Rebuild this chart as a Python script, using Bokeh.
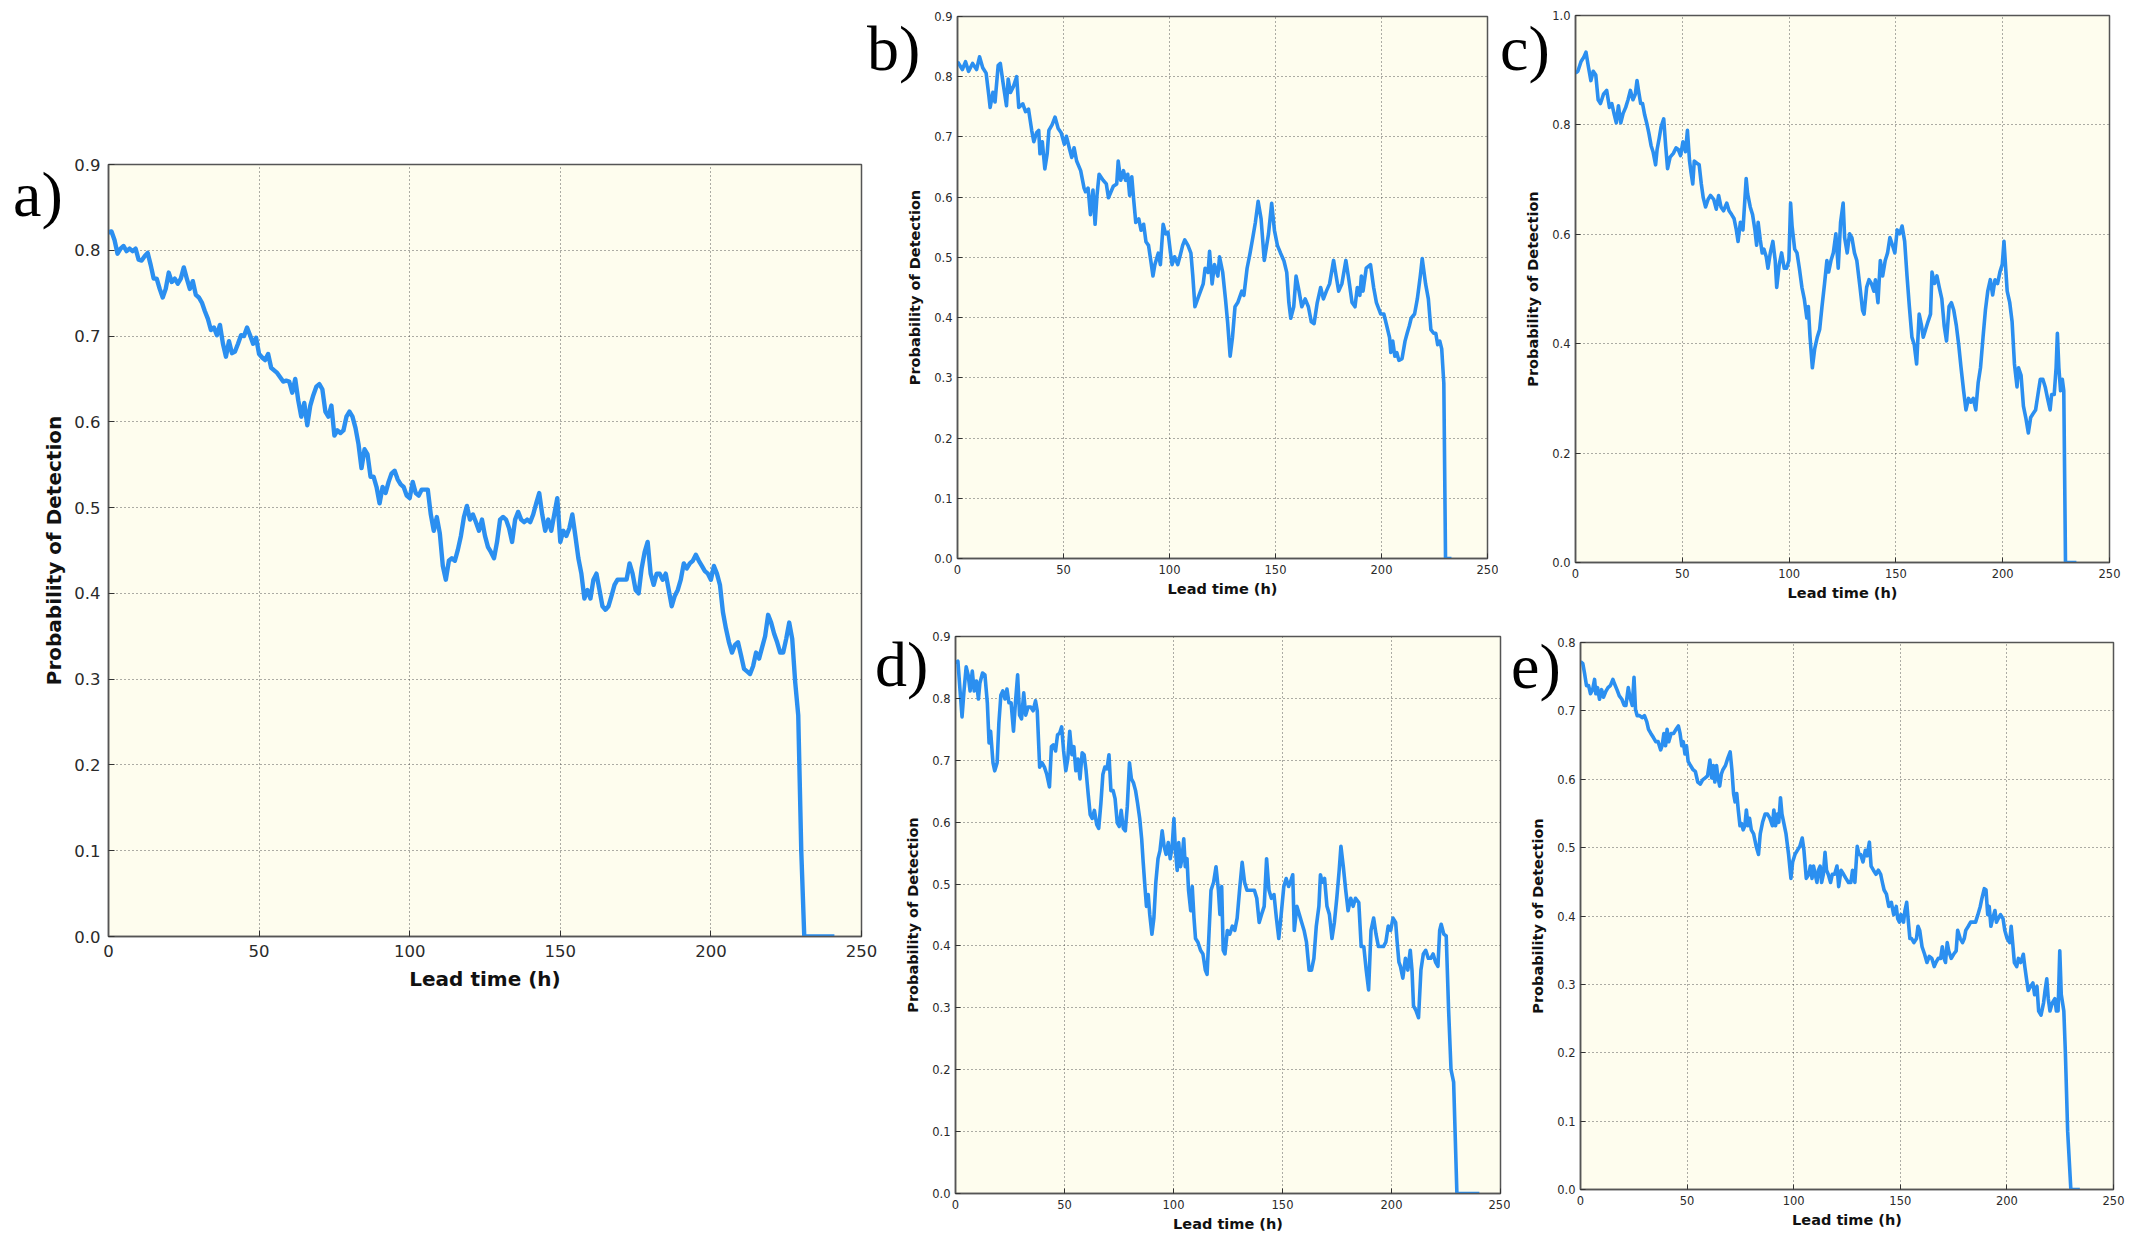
from bokeh.plotting import figure
from bokeh.layouts import row, column
from bokeh.models import FixedTicker, NumeralTickFormatter, Div
from bokeh.embed import file_html
from bokeh.resources import INLINE

# ---------------- data ----------------
a_hours = list(range(0, 242))
a_pod = [0.821, 0.822, 0.812, 0.796, 0.802, 0.805, 0.799, 0.802, 0.799, 0.802,
         0.789, 0.788, 0.793, 0.797, 0.783, 0.767, 0.767, 0.755, 0.745, 0.755,
         0.774, 0.763, 0.767, 0.761, 0.767, 0.780, 0.767, 0.755, 0.764, 0.748,
         0.745, 0.739, 0.729, 0.720, 0.707, 0.710, 0.701, 0.713, 0.691, 0.676,
         0.694, 0.680, 0.682, 0.691, 0.701, 0.700, 0.710, 0.701, 0.691, 0.698,
         0.679, 0.675, 0.672, 0.679, 0.663, 0.660, 0.657, 0.652, 0.647, 0.648,
         0.647, 0.634, 0.650, 0.625, 0.606, 0.622, 0.596, 0.619, 0.631, 0.641,
         0.644, 0.638, 0.612, 0.606, 0.619, 0.584, 0.590, 0.587, 0.590, 0.606,
         0.612, 0.606, 0.593, 0.574, 0.546, 0.568, 0.562, 0.536, 0.536, 0.524,
         0.505, 0.524, 0.517, 0.530, 0.540, 0.543, 0.533, 0.527, 0.524, 0.514,
         0.511, 0.530, 0.517, 0.514, 0.521, 0.521, 0.521, 0.492, 0.473, 0.489,
         0.470, 0.432, 0.416, 0.438, 0.441, 0.438, 0.451, 0.467, 0.489, 0.502,
         0.486, 0.492, 0.483, 0.473, 0.486, 0.467, 0.454, 0.448, 0.441, 0.460,
         0.486, 0.489, 0.486, 0.476, 0.460, 0.486, 0.495, 0.486, 0.483, 0.486,
         0.483, 0.492, 0.505, 0.517, 0.492, 0.473, 0.486, 0.473, 0.492, 0.511,
         0.460, 0.473, 0.467, 0.476, 0.492, 0.467, 0.441, 0.423, 0.394, 0.404,
         0.394, 0.416, 0.423, 0.404, 0.385, 0.381, 0.385, 0.397, 0.410, 0.416,
         0.416, 0.416, 0.416, 0.435, 0.423, 0.404, 0.400, 0.429, 0.448, 0.460,
         0.423, 0.410, 0.423, 0.423, 0.416, 0.423, 0.404, 0.385, 0.397, 0.404,
         0.416, 0.435, 0.429, 0.435, 0.438, 0.445, 0.438, 0.432, 0.426, 0.423,
         0.416, 0.432, 0.423, 0.410, 0.378, 0.359, 0.343, 0.331, 0.340, 0.343,
         0.328, 0.312, 0.309, 0.306, 0.315, 0.331, 0.324, 0.337, 0.350, 0.375,
         0.366, 0.353, 0.343, 0.331, 0.331, 0.347, 0.366, 0.347, 0.296, 0.258,
         0.100, 0.0, 0.0, 0.0, 0.0, 0.0, 0.0, 0.0, 0.0, 0.0, 0.0, 0.0]

b_points = [
    (0, 0.825), (2.3, 0.812), (3.8, 0.825), (5.2, 0.809), (7.1, 0.822), (9.0, 0.812),
    (10.4, 0.833), (11.9, 0.815), (13.5, 0.806), (14.8, 0.768), (15.4, 0.749), (16.7, 0.774),
    (17.7, 0.758), (19.2, 0.819), (20.2, 0.822), (21.6, 0.787), (23.1, 0.752), (23.9, 0.796),
    (25.0, 0.774), (26.4, 0.784), (27.9, 0.800), (28.9, 0.749), (30.8, 0.755), (32.1, 0.742),
    (33.5, 0.746), (35.0, 0.711), (36.0, 0.692), (37.3, 0.707), (38.3, 0.711), (38.9, 0.672),
    (40.0, 0.692), (41.2, 0.647), (42.3, 0.672), (43.1, 0.711), (44.6, 0.720), (46.0, 0.733),
    (47.5, 0.714), (48.9, 0.707), (50.4, 0.688), (51.4, 0.701), (52.7, 0.682), (53.9, 0.666),
    (55.0, 0.682), (56.2, 0.660), (58.1, 0.644), (59.7, 0.615), (60.4, 0.609), (61.6, 0.615),
    (62.7, 0.571), (63.9, 0.612), (64.9, 0.555), (65.8, 0.603), (66.8, 0.638), (68.7, 0.628),
    (70.2, 0.622), (71.2, 0.599), (72.4, 0.609), (73.5, 0.618), (75.1, 0.622), (75.8, 0.660),
    (77.0, 0.628), (78.3, 0.644), (79.3, 0.628), (80.3, 0.638), (81.2, 0.603), (82.2, 0.634),
    (83.1, 0.596), (84.1, 0.558), (85.5, 0.564), (86.6, 0.545), (87.8, 0.555), (88.9, 0.526),
    (90.1, 0.520), (91.2, 0.494), (92.2, 0.469), (93.1, 0.488), (94.7, 0.507), (95.7, 0.488),
    (97.0, 0.555), (98.2, 0.539), (99.3, 0.542), (100.5, 0.507), (101.2, 0.488), (102.4, 0.501),
    (103.9, 0.488), (105.1, 0.504), (106.2, 0.520), (107.2, 0.529), (108.7, 0.520), (110.1, 0.507),
    (111.0, 0.469), (112.0, 0.418), (113.9, 0.437), (115.9, 0.456), (116.8, 0.482), (118.2, 0.475),
    (118.9, 0.510), (120.1, 0.456), (121.2, 0.488), (122.8, 0.469), (123.6, 0.501), (125.1, 0.475),
    (126.4, 0.431), (127.4, 0.393), (128.6, 0.336), (129.7, 0.367), (130.9, 0.418), (132.2, 0.425),
    (134.1, 0.444), (135.1, 0.437), (136.6, 0.482), (138.0, 0.507), (139.3, 0.533), (140.5, 0.558),
    (141.8, 0.593), (143.2, 0.564), (144.7, 0.495), (146.7, 0.539), (148.2, 0.590), (149.5, 0.545),
    (150.9, 0.520), (152.4, 0.507), (154.0, 0.494), (155.3, 0.475), (156.3, 0.425), (157.2, 0.399),
    (158.6, 0.418), (159.7, 0.469), (161.1, 0.444), (162.4, 0.418), (164.0, 0.431), (165.5, 0.418),
    (166.9, 0.393), (168.2, 0.390), (169.7, 0.425), (171.3, 0.450), (172.6, 0.431), (174.0, 0.444),
    (175.5, 0.456), (177.4, 0.495), (178.6, 0.469), (179.8, 0.444), (181.3, 0.456), (183.2, 0.495),
    (184.6, 0.463), (186.1, 0.425), (187.5, 0.418), (188.6, 0.450), (189.8, 0.437), (190.5, 0.469),
    (191.3, 0.444), (192.8, 0.482), (194.8, 0.488), (196.3, 0.450), (197.6, 0.425), (199.6, 0.406),
    (201.1, 0.406), (202.5, 0.386), (203.8, 0.367), (204.4, 0.342), (205.3, 0.361), (206.3, 0.336),
    (207.2, 0.342), (208.2, 0.329), (209.7, 0.332), (211.1, 0.361), (212.1, 0.374), (213.1, 0.386),
    (214.0, 0.399), (215.6, 0.406), (216.9, 0.431), (218.3, 0.469), (219.2, 0.498), (220.8, 0.456),
    (222.1, 0.431), (223.3, 0.380), (224.6, 0.374), (225.6, 0.374), (226.5, 0.355), (227.5, 0.361),
    (228.4, 0.348), (229.4, 0.291), (230.2, 0.0), (233.0, 0.0)]

c_points = [
    (0.0, 0.895), (1.1, 0.898), (2.6, 0.916), (3.8, 0.923), (4.9, 0.933), (6.1, 0.905),
    (7.2, 0.881), (8.3, 0.898), (9.5, 0.891), (10.6, 0.846), (11.7, 0.839), (13.1, 0.856),
    (14.6, 0.863), (15.9, 0.832), (17.0, 0.839), (18.2, 0.818), (19.1, 0.804), (20.1, 0.835),
    (21.2, 0.804), (22.3, 0.821), (23.5, 0.832), (24.6, 0.846), (25.7, 0.863), (26.9, 0.846),
    (28.0, 0.856), (28.8, 0.881), (29.5, 0.863), (30.5, 0.839), (31.4, 0.839), (32.4, 0.818),
    (33.3, 0.804), (34.3, 0.786), (35.4, 0.762), (36.3, 0.751), (37.5, 0.727), (38.2, 0.755),
    (39.2, 0.776), (40.1, 0.797), (41.3, 0.811), (42.2, 0.762), (43.1, 0.720), (44.3, 0.741),
    (45.8, 0.748), (47.1, 0.758), (48.1, 0.755), (49.2, 0.744), (50.3, 0.769), (51.5, 0.751),
    (52.4, 0.790), (53.4, 0.734), (54.1, 0.713), (54.9, 0.692), (55.6, 0.734), (56.8, 0.730),
    (57.9, 0.727), (58.9, 0.692), (59.8, 0.667), (60.9, 0.650), (62.1, 0.664), (63.2, 0.671),
    (64.7, 0.664), (65.9, 0.646), (67.0, 0.671), (68.1, 0.650), (69.3, 0.643), (70.8, 0.657),
    (71.9, 0.643), (73.1, 0.636), (74.2, 0.629), (75.3, 0.608), (76.1, 0.587), (77.2, 0.622),
    (78.4, 0.608), (79.3, 0.664), (79.9, 0.702), (80.6, 0.674), (81.8, 0.650), (82.9, 0.636),
    (84.0, 0.608), (84.8, 0.580), (85.5, 0.622), (86.5, 0.590), (87.4, 0.566), (88.2, 0.573),
    (89.3, 0.559), (90.1, 0.538), (91.2, 0.566), (92.4, 0.587), (93.5, 0.552), (94.2, 0.503),
    (95.4, 0.545), (96.5, 0.566), (97.7, 0.538), (98.8, 0.538), (99.9, 0.552), (100.7, 0.657),
    (101.4, 0.615), (102.6, 0.573), (103.7, 0.566), (104.8, 0.538), (106.0, 0.503), (107.1, 0.482),
    (108.3, 0.447), (109.0, 0.468), (109.8, 0.412), (110.9, 0.356), (112.0, 0.391), (113.2, 0.412),
    (114.3, 0.426), (115.4, 0.468), (116.6, 0.510), (117.7, 0.552), (118.5, 0.531), (119.6, 0.552),
    (120.7, 0.566), (121.9, 0.601), (123.0, 0.538), (124.1, 0.622), (125.3, 0.657), (126.0, 0.594),
    (127.2, 0.566), (128.3, 0.601), (129.4, 0.594), (130.6, 0.566), (131.7, 0.552), (133.2, 0.503),
    (134.4, 0.461), (135.1, 0.454), (136.3, 0.503), (137.4, 0.517), (138.5, 0.510), (139.7, 0.496),
    (140.4, 0.517), (141.6, 0.475), (142.7, 0.552), (143.8, 0.524), (145.0, 0.552), (146.1, 0.566),
    (147.2, 0.594), (148.4, 0.580), (149.5, 0.566), (150.6, 0.608), (151.8, 0.601), (152.9, 0.615),
    (154.1, 0.587), (155.2, 0.524), (156.3, 0.468), (157.5, 0.412), (158.6, 0.398), (159.7, 0.363),
    (160.9, 0.454), (162.0, 0.433), (162.8, 0.412), (163.9, 0.426), (165.0, 0.440), (166.2, 0.454),
    (166.9, 0.531), (168.1, 0.510), (169.2, 0.524), (170.3, 0.503), (171.5, 0.482), (172.6, 0.433),
    (173.7, 0.405), (174.9, 0.468), (176.0, 0.475), (177.1, 0.461), (178.3, 0.433), (179.4, 0.398),
    (180.5, 0.356), (181.7, 0.314), (182.8, 0.279), (184.0, 0.300), (185.1, 0.293), (186.2, 0.300),
    (187.4, 0.279), (188.5, 0.328), (189.6, 0.356), (190.8, 0.412), (191.9, 0.461), (193.0, 0.496),
    (194.2, 0.517), (195.3, 0.489), (196.4, 0.517), (197.6, 0.510), (198.7, 0.531), (199.8, 0.545),
    (200.6, 0.587), (201.4, 0.538), (202.1, 0.496), (203.3, 0.475), (204.4, 0.440), (205.5, 0.363),
    (206.7, 0.321), (207.4, 0.356), (208.6, 0.342), (209.7, 0.286), (210.8, 0.265), (212.0, 0.237),
    (213.1, 0.265), (214.2, 0.272), (215.4, 0.279), (216.5, 0.307), (217.6, 0.335), (218.8, 0.335),
    (219.9, 0.321), (221.0, 0.300), (222.2, 0.279), (222.9, 0.307), (224.1, 0.307), (225.0, 0.356),
    (225.6, 0.419), (226.3, 0.356), (227.1, 0.314), (227.9, 0.335), (228.6, 0.314), (229.4, 0.0),
    (234.5, 0.0)]

d_points = [
    (0.0, 0.857), (1.1, 0.860), (2.1, 0.812), (3.0, 0.770), (3.9, 0.812), (4.9, 0.851),
    (5.8, 0.838), (6.7, 0.812), (7.7, 0.844), (8.6, 0.812), (9.6, 0.828), (10.5, 0.799),
    (11.2, 0.825), (12.4, 0.841), (13.5, 0.838), (14.6, 0.793), (15.4, 0.728), (16.1, 0.747),
    (17.2, 0.696), (18.0, 0.683), (19.1, 0.696), (19.9, 0.760), (20.8, 0.805), (21.7, 0.812),
    (22.7, 0.799), (23.6, 0.815), (24.5, 0.793), (25.5, 0.793), (26.6, 0.747), (27.5, 0.793),
    (28.5, 0.838), (29.4, 0.773), (30.3, 0.767), (31.3, 0.809), (32.2, 0.773), (33.3, 0.786),
    (34.5, 0.786), (35.6, 0.780), (36.7, 0.796), (37.5, 0.780), (38.6, 0.689), (39.7, 0.696),
    (40.8, 0.689), (41.9, 0.677), (43.1, 0.657), (44.0, 0.722), (44.9, 0.725), (45.9, 0.715),
    (46.8, 0.741), (47.8, 0.744), (48.7, 0.754), (49.6, 0.715), (50.6, 0.683), (51.5, 0.702),
    (52.4, 0.747), (53.4, 0.709), (54.3, 0.722), (55.2, 0.683), (56.2, 0.702), (57.1, 0.670),
    (58.1, 0.712), (59.0, 0.709), (59.9, 0.683), (60.9, 0.644), (61.8, 0.612), (62.7, 0.606),
    (63.7, 0.619), (64.8, 0.596), (65.7, 0.590), (66.7, 0.631), (67.6, 0.677), (68.5, 0.689),
    (69.5, 0.686), (70.4, 0.709), (71.3, 0.651), (72.3, 0.651), (73.2, 0.638), (74.2, 0.599),
    (75.1, 0.593), (76.0, 0.619), (77.0, 0.590), (77.9, 0.586), (78.8, 0.625), (79.8, 0.696),
    (80.7, 0.670), (81.6, 0.664), (82.6, 0.651), (83.5, 0.631), (84.5, 0.606), (85.4, 0.573),
    (86.1, 0.535), (86.9, 0.496), (87.6, 0.464), (88.4, 0.483), (89.1, 0.451), (90.1, 0.419),
    (91.0, 0.445), (91.9, 0.503), (92.9, 0.541), (93.8, 0.554), (94.8, 0.586), (95.7, 0.561),
    (96.6, 0.548), (97.6, 0.567), (98.5, 0.541), (99.4, 0.561), (100.2, 0.606), (100.9, 0.554),
    (101.7, 0.522), (102.4, 0.567), (103.2, 0.528), (103.9, 0.541), (104.7, 0.573), (105.4, 0.528),
    (106.2, 0.541), (106.9, 0.490), (107.9, 0.457), (108.6, 0.496), (109.4, 0.445), (110.1, 0.412),
    (111.2, 0.406), (112.4, 0.393), (113.5, 0.387), (114.6, 0.361), (115.4, 0.354), (116.1, 0.406),
    (117.2, 0.490), (118.4, 0.503), (119.5, 0.528), (120.6, 0.490), (121.3, 0.451), (122.1, 0.496),
    (122.8, 0.393), (123.6, 0.387), (124.7, 0.425), (125.8, 0.419), (127.0, 0.432), (128.1, 0.425),
    (129.2, 0.445), (130.3, 0.490), (131.5, 0.535), (132.6, 0.503), (133.7, 0.490), (134.8, 0.490),
    (136.0, 0.490), (137.1, 0.490), (138.2, 0.477), (139.3, 0.438), (140.4, 0.451), (141.6, 0.464),
    (142.7, 0.541), (143.8, 0.490), (144.9, 0.477), (146.1, 0.483), (147.2, 0.445), (148.3, 0.412),
    (149.4, 0.451), (150.6, 0.496), (151.7, 0.509), (152.8, 0.496), (153.6, 0.503), (154.7, 0.515),
    (155.4, 0.425), (156.6, 0.464), (157.7, 0.451), (158.8, 0.438), (159.9, 0.425), (161.0, 0.406),
    (162.2, 0.361), (163.3, 0.361), (164.4, 0.380), (165.5, 0.432), (166.7, 0.464), (167.4, 0.515),
    (168.2, 0.503), (169.3, 0.509), (170.4, 0.464), (171.5, 0.451), (172.7, 0.412), (173.8, 0.438),
    (174.9, 0.477), (176.0, 0.522), (176.8, 0.561), (177.9, 0.528), (179.0, 0.490), (180.1, 0.457),
    (181.3, 0.477), (182.4, 0.464), (183.5, 0.477), (185.0, 0.470), (186.1, 0.399), (187.3, 0.399),
    (188.4, 0.361), (189.5, 0.329), (190.6, 0.425), (191.8, 0.445), (192.9, 0.419), (194.0, 0.399),
    (195.1, 0.399), (196.3, 0.399), (197.4, 0.406), (198.5, 0.432), (199.6, 0.425), (200.7, 0.445),
    (201.9, 0.438), (202.6, 0.406), (203.4, 0.374), (204.1, 0.367), (205.2, 0.348), (206.4, 0.380),
    (207.5, 0.361), (208.6, 0.393), (209.4, 0.361), (210.1, 0.303), (211.2, 0.296), (212.4, 0.284),
    (213.5, 0.361), (214.6, 0.387), (215.7, 0.393), (216.9, 0.380), (218.0, 0.380), (219.1, 0.387),
    (220.2, 0.374), (221.3, 0.367), (222.1, 0.425), (222.8, 0.435), (224.0, 0.419), (225.1, 0.416),
    (226.2, 0.296), (227.3, 0.200), (228.5, 0.180), (230.0, 0.0), (240.3, 0.0)]

e_points = [
    (0.0, 0.772), (1.1, 0.769), (1.9, 0.755), (2.8, 0.737), (3.8, 0.737), (4.7, 0.725),
    (5.7, 0.731), (6.6, 0.746), (7.2, 0.725), (8.0, 0.734), (8.9, 0.717), (9.9, 0.731),
    (10.8, 0.720), (11.8, 0.728), (12.9, 0.734), (14.0, 0.737), (15.2, 0.746), (15.9, 0.740),
    (17.1, 0.731), (18.2, 0.722), (19.4, 0.717), (20.5, 0.708), (21.3, 0.708), (22.4, 0.734),
    (23.2, 0.720), (24.3, 0.708), (25.1, 0.749), (25.8, 0.702), (26.6, 0.693), (27.7, 0.693),
    (28.9, 0.690), (30.0, 0.693), (31.1, 0.684), (31.9, 0.673), (33.0, 0.667), (34.2, 0.661),
    (35.3, 0.655), (36.4, 0.655), (37.6, 0.643), (38.3, 0.649), (39.1, 0.667), (39.9, 0.649),
    (40.6, 0.673), (41.4, 0.655), (42.5, 0.667), (43.7, 0.667), (44.8, 0.673), (45.9, 0.678),
    (46.7, 0.667), (47.5, 0.649), (48.2, 0.655), (49.0, 0.637), (49.7, 0.649), (50.5, 0.626),
    (51.6, 0.620), (52.8, 0.614), (53.9, 0.611), (55.0, 0.596), (56.2, 0.593), (57.3, 0.599),
    (58.5, 0.602), (59.6, 0.605), (60.7, 0.628), (61.5, 0.602), (62.3, 0.620), (63.0, 0.596),
    (63.8, 0.620), (64.5, 0.602), (65.3, 0.590), (66.1, 0.608), (66.8, 0.614), (68.0, 0.620),
    (69.1, 0.631), (70.2, 0.640), (71.0, 0.614), (71.8, 0.579), (72.5, 0.567), (73.3, 0.579),
    (74.0, 0.555), (74.8, 0.532), (75.6, 0.535), (76.3, 0.526), (77.1, 0.532), (77.8, 0.555),
    (78.6, 0.532), (79.3, 0.543), (80.1, 0.526), (81.2, 0.520), (82.4, 0.502), (83.5, 0.490),
    (84.3, 0.520), (85.4, 0.537), (86.6, 0.549), (87.7, 0.549), (88.8, 0.543), (90.0, 0.532),
    (90.7, 0.555), (91.5, 0.532), (92.3, 0.549), (93.0, 0.537), (93.8, 0.573), (94.5, 0.549),
    (95.3, 0.537), (96.4, 0.520), (97.6, 0.490), (98.7, 0.455), (99.5, 0.479), (100.6, 0.490),
    (101.7, 0.496), (102.9, 0.502), (104.0, 0.514), (104.8, 0.496), (105.9, 0.455), (107.1, 0.461),
    (107.8, 0.473), (108.6, 0.455), (109.3, 0.473), (110.1, 0.461), (110.9, 0.449), (111.6, 0.467),
    (112.4, 0.473), (113.1, 0.449), (113.9, 0.461), (114.7, 0.493), (115.4, 0.467), (116.2, 0.461),
    (117.3, 0.449), (118.1, 0.461), (119.2, 0.461), (120.3, 0.473), (121.1, 0.443), (122.2, 0.467),
    (123.4, 0.461), (124.5, 0.455), (125.7, 0.449), (126.8, 0.449), (127.6, 0.467), (128.7, 0.449),
    (129.8, 0.502), (130.6, 0.490), (131.4, 0.490), (132.5, 0.479), (133.6, 0.496), (134.4, 0.488),
    (135.5, 0.508), (136.3, 0.473), (137.4, 0.467), (138.6, 0.461), (139.7, 0.467), (140.8, 0.461),
    (141.6, 0.449), (142.4, 0.438), (143.5, 0.432), (144.6, 0.414), (145.8, 0.420), (146.9, 0.402),
    (148.1, 0.414), (148.8, 0.396), (149.6, 0.391), (150.3, 0.402), (151.5, 0.391), (152.2, 0.408),
    (153.0, 0.420), (153.8, 0.391), (154.5, 0.367), (155.3, 0.367), (156.4, 0.361), (157.6, 0.367),
    (158.3, 0.385), (159.1, 0.379), (160.2, 0.355), (161.4, 0.344), (162.5, 0.332), (163.6, 0.341),
    (164.8, 0.338), (165.9, 0.326), (166.7, 0.332), (167.8, 0.338), (168.9, 0.338), (169.7, 0.355),
    (170.5, 0.338), (171.2, 0.332), (172.0, 0.361), (172.7, 0.349), (173.9, 0.338), (175.0, 0.344),
    (176.2, 0.349), (176.9, 0.379), (178.1, 0.367), (179.2, 0.361), (180.0, 0.367), (180.7, 0.379),
    (181.9, 0.385), (183.0, 0.391), (184.1, 0.391), (185.3, 0.391), (186.4, 0.402), (187.5, 0.414),
    (188.3, 0.426), (189.4, 0.440), (190.2, 0.438), (191.0, 0.402), (191.7, 0.414), (192.5, 0.385),
    (193.3, 0.396), (194.4, 0.408), (195.1, 0.391), (195.9, 0.396), (197.0, 0.402), (198.2, 0.396),
    (199.0, 0.379), (200.1, 0.367), (201.3, 0.361), (202.0, 0.385), (202.7, 0.361), (203.5, 0.332),
    (204.6, 0.326), (205.4, 0.338), (206.5, 0.332), (207.7, 0.344), (208.4, 0.326), (209.2, 0.308),
    (210.0, 0.291), (211.1, 0.297), (212.2, 0.302), (213.0, 0.285), (214.1, 0.297), (214.9, 0.261),
    (216.0, 0.255), (217.2, 0.273), (217.9, 0.291), (218.7, 0.308), (219.4, 0.279), (220.2, 0.261),
    (221.3, 0.273), (222.5, 0.279), (223.2, 0.261), (224.0, 0.261), (224.8, 0.349), (225.5, 0.285),
    (226.7, 0.261), (227.4, 0.203), (228.5, 0.085), (230.0, 0.0), (234.2, 0.0)]

x_ticks = [0, 50, 100, 150, 200, 250]
y_ticks_09 = [0.0, 0.1, 0.2, 0.3, 0.4, 0.5, 0.6, 0.7, 0.8, 0.9]
y_ticks_10 = [0.0, 0.2, 0.4, 0.6, 0.8, 1.0]
y_ticks_08 = [0.0, 0.1, 0.2, 0.3, 0.4, 0.5, 0.6, 0.7, 0.8]

x_title = "Lead time (h)"
y_title = "Probability of Detection"
panel_letters = ["a)", "b)", "c)", "d)", "e)"]

# ---------------- styling ----------------
BG = "#fefdee"
LINE = "#2b8ff0"
FRAME = "#555555"
GRID = "#4a4a4a"
FONT = "DejaVu Sans"


def make_panel(xs, ys, ymax, yticks, frame, borders, big):
    fw, fh = frame
    bl, br, bt, bb = borders
    p = figure(frame_width=fw, frame_height=fh, x_range=(0, 250), y_range=(0, ymax),
               output_backend="svg", toolbar_location=None,
               min_border_left=bl, min_border_right=br, min_border_top=bt, min_border_bottom=bb)
    p.background_fill_color = BG
    p.border_fill_alpha = 0
    p.outline_line_color = FRAME
    p.outline_line_width = 1.5

    tick_fs = "16.5px" if big else "11.5px"
    title_fs = "20px" if big else "14.5px"

    xt = FixedTicker(ticks=x_ticks)
    yt = FixedTicker(ticks=yticks)
    p.xaxis.ticker = xt
    p.yaxis.ticker = yt
    p.yaxis.formatter = NumeralTickFormatter(format="0.0")
    p.xgrid.ticker = xt
    p.ygrid.ticker = yt
    for g in (p.xgrid, p.ygrid):
        g.grid_line_color = GRID
        g.grid_line_dash = "1 3"
        g.grid_line_width = 1.1
        g.grid_line_alpha = 0.9

    for ax in list(p.xaxis) + list(p.yaxis):
        ax.axis_line_color = FRAME
        ax.axis_line_width = 1.5
        ax.major_tick_in = 6 if big else 5
        ax.major_tick_out = 0
        ax.major_tick_line_color = "#333333"
        ax.minor_tick_line_color = None
        ax.major_label_text_font = FONT
        ax.major_label_text_font_size = tick_fs
        ax.major_label_text_color = "#2a2a2a"
        ax.axis_label_text_font = FONT
        ax.axis_label_text_font_style = "bold"
        ax.axis_label_text_font_size = title_fs
        ax.axis_label_text_color = "#111111"

    p.xaxis.axis_label = x_title
    p.yaxis.axis_label = y_title
    p.xaxis.major_label_standoff = 8 if big else 6
    p.xaxis.axis_label_standoff = 7 if big else 4
    p.yaxis.major_label_standoff = 8 if big else 5
    p.yaxis.axis_label_standoff = 5 if big else 8

    p.line(xs, ys, line_color=LINE, line_width=4.4 if big else 3.6, line_join="round")
    p.grid.level = "underlay"
    return p


def letter_div(text, left, top):
    # panel letter overlaid on the left border of its panel
    h = 70
    html = ('<div style="font-family:\'Liberation Serif\',serif;font-size:64px;'
            'line-height:64px;margin:0;padding:0;color:#000;white-space:nowrap;">%s</div>' % text)
    return Div(text=html, width=80, height=h, margin=(top, 0, -(top + h), left))


bx, by = zip(*b_points)
cx, cy = zip(*c_points)
dxs, dys = zip(*d_points)
ex, ey = zip(*e_points)

pa = make_panel(a_hours, a_pod, 0.9, y_ticks_09, (753, 772), (108, 27, 164, 300), True)
pb = make_panel(list(bx), list(by), 0.9, y_ticks_09, (530, 542), (94, 11, 16, 62), False)
pc = make_panel(list(cx), list(cy), 1.0, y_ticks_10, (534, 547), (77, 21, 15, 58), False)
pd = make_panel(list(dxs), list(dys), 0.9, y_ticks_09, (545, 557), (92, 10, 16, 43), False)
pe = make_panel(list(ex), list(ey), 0.8, y_ticks_08, (533, 547), (70, 17, 22, 47), False)

col_a = column(letter_div(panel_letters[0], 13, 163), pa)
col_b = column(letter_div(panel_letters[1], 4, 17), pb)
col_c = column(letter_div(panel_letters[2], 2, 17), pc)
col_d = column(letter_div(panel_letters[3], 12, 13), pd)
col_e = column(letter_div(panel_letters[4], 1, 15), pe)

right_col = column(row(col_b, col_c), row(col_d, col_e))
right_col.margin = (0, 0, 0, -25)
layout = row(col_a, right_col)

open("out.html", "w").write(file_html(layout, INLINE))
